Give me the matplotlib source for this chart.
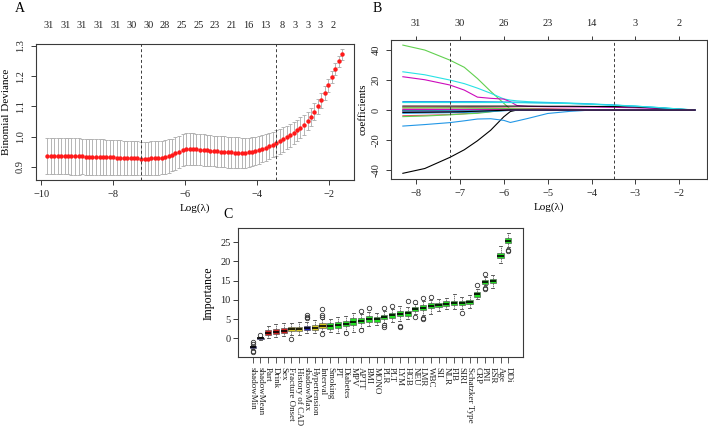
import numpy as np
import matplotlib
matplotlib.use("Agg")
import matplotlib.pyplot as plt

plt.rcParams['font.family'] = ['Liberation Serif', 'DejaVu Serif']

# ---------------- panel A: cross-validated binomial deviance ----------------
log_lambda_a = [-9.83, -9.73, -9.64, -9.54, -9.44, -9.35, -9.25, -9.16, -9.06, -8.96,
                -8.87, -8.77, -8.67, -8.58, -8.48, -8.38, -8.29, -8.19, -8.10, -8.00,
                -7.90, -7.81, -7.71, -7.61, -7.52, -7.42, -7.33, -7.23, -7.13, -7.04,
                -6.94, -6.84, -6.75, -6.65, -6.55, -6.46, -6.36, -6.27, -6.17, -6.07,
                -5.98, -5.88, -5.78, -5.69, -5.59, -5.49, -5.40, -5.30, -5.20, -5.11,
                -5.01, -4.92, -4.82, -4.72, -4.63, -4.53, -4.43, -4.34, -4.24, -4.14,
                -4.05, -3.95, -3.86, -3.76, -3.66, -3.57, -3.47, -3.37, -3.28, -3.18,
                -3.09, -2.99, -2.89, -2.80, -2.70, -2.60, -2.51, -2.41, -2.31, -2.22,
                -2.12, -2.03, -1.93, -1.83, -1.74, -1.64]
deviance = [0.937, 0.937, 0.937, 0.936, 0.936, 0.936, 0.936, 0.935, 0.935, 0.935,
            0.935, 0.934, 0.934, 0.934, 0.933, 0.933, 0.933, 0.932, 0.932, 0.932,
            0.931, 0.931, 0.930, 0.930, 0.929, 0.929, 0.929, 0.928, 0.928, 0.928,
            0.929, 0.929, 0.930, 0.931, 0.933, 0.936, 0.940, 0.945, 0.950, 0.955,
            0.958, 0.959, 0.959, 0.958, 0.957, 0.956, 0.955, 0.954, 0.953, 0.952,
            0.951, 0.950, 0.949, 0.948, 0.947, 0.947, 0.947, 0.947, 0.948, 0.950,
            0.953, 0.956, 0.960, 0.964, 0.969, 0.974, 0.979, 0.985, 0.991, 0.998,
            1.005, 1.013, 1.021, 1.030, 1.040, 1.052, 1.066, 1.082, 1.100, 1.121,
            1.145, 1.170, 1.197, 1.224, 1.249, 1.273]
deviance_sd = [0.060, 0.060, 0.060, 0.060, 0.060, 0.060, 0.060, 0.060, 0.060, 0.060,
               0.059, 0.059, 0.059, 0.059, 0.058, 0.058, 0.058, 0.058, 0.058, 0.057,
               0.057, 0.057, 0.057, 0.057, 0.057, 0.056, 0.056, 0.056, 0.056, 0.056,
               0.056, 0.056, 0.055, 0.055, 0.055, 0.055, 0.054, 0.054, 0.054, 0.053,
               0.053, 0.053, 0.052, 0.052, 0.052, 0.052, 0.052, 0.052, 0.051, 0.051,
               0.051, 0.051, 0.051, 0.051, 0.051, 0.051, 0.050, 0.050, 0.049, 0.048,
               0.047, 0.046, 0.045, 0.044, 0.043, 0.042, 0.042, 0.041, 0.040, 0.039,
               0.038, 0.037, 0.035, 0.034, 0.033, 0.031, 0.030, 0.028, 0.026, 0.025,
               0.024, 0.022, 0.021, 0.020, 0.019, 0.018]
lambda_min = -7.23
lambda_1se = -3.49
nzero_pos_a = [-9.80, -9.33, -8.87, -8.41, -7.94, -7.48, -7.02, -6.56, -6.09, -5.63,
               -5.17, -4.70, -4.24, -3.78, -3.31, -2.94, -2.58, -2.25, -1.88]
nzero_labels_a = ['31', '31', '31', '31', '31', '30', '30', '28', '25', '25',
                  '23', '21', '16', '13', '8', '3', '3', '3', '2']

# ---------------- panel B: coefficient paths ----------------
path_x = [-8.3, -7.8, -7.23, -6.9, -6.6, -6.3, -6.0, -5.85, -5.7, -5.45,
          -5.0, -4.5, -4.0, -3.5, -3.0, -2.5, -2.0, -1.64]
coef_paths = [
    [-42.2, -39.0, -31.6, -26.5, -20.5, -13.5, -4.5, -1.0, 0, 0, 0, 0, 0, 0, 0, 0, 0, 0],
    [0.7, 0.7, 0.6, 0.5, 0.4, 0.3, 0.2, 0.1, 0, 0, 0, 0, 0, 0, 0, 0, 0, 0],
    [43.3, 40.0, 33.3, 28.5, 21.0, 12.5, 4.5, 0.5, 0, 0, 0, 0, 0, 0, 0, 0, 0, 0],
    [-10.7, -9.7, -8.4, -7.2, -6.0, -5.8, -6.9, -8.3, -7.3, -5.6, -2.3, -0.9, 0, 0, 0, 0, 0, 0],
    [25.5, 23.5, 20.0, 17.6, 14.6, 11.2, 7.4, 6.6, 6.1, 5.6, 5.1, 4.7, 4.1, 3.4, 2.6, 1.7, 0.7, 0],
    [22.2, 20.2, 16.7, 13.3, 8.6, 7.8, 7.3, 5.5, 3.0, 2.4, 2.2, 2.1, 2.0, 1.8, 1.5, 1.0, 0.4, 0],
    [2.6, 2.6, 2.6, 2.6, 2.6, 2.6, 2.6, 2.6, 2.6, 2.6, 2.5, 2.5, 2.4, 2.3, 2.0, 1.4, 0.5, 0],
    [-3.8, -3.5, -3.0, -2.5, -1.8, -1.0, -0.3, 0, 0, 0, 0, 0, 0, 0, 0, 0, 0, 0],
    [-4.4, -4.0, -3.2, -2.6, -2.2, -1.2, -0.2, 0, 0, 0, 0, 0, 0, 0, 0, 0, 0, 0],
    [5.6, 5.6, 5.6, 5.6, 5.6, 5.5, 5.4, 5.3, 5.2, 5.0, 4.8, 4.4, 3.9, 3.3, 2.5, 1.6, 0.6, 0],
    [5.0, 5.0, 5.0, 5.0, 5.0, 5.0, 5.0, 5.0, 4.9, 4.8, 4.6, 4.3, 3.8, 3.2, 2.6, 1.7, 0.7, 0],
    [-1.1, -1.0, -0.9, -0.8, -0.6, -0.4, -0.2, 0, 0, 0, 0, 0, 0, 0, 0, 0, 0, 0],
    [-0.4, -0.4, -0.3, -0.3, -0.2, -0.1, 0, 0, 0, 0, 0, 0, 0, 0, 0, 0, 0, 0],
    [1.9, 1.9, 1.8, 1.7, 1.6, 1.5, 1.4, 1.3, 1.2, 1.1, 0.9, 0.6, 0.3, 0, 0, 0, 0, 0],
    [1.5, 1.5, 1.4, 1.3, 1.2, 1.1, 1.0, 0.9, 0.8, 0.7, 0.4, 0.1, 0, 0, 0, 0, 0, 0],
    [-2.2, -2.0, -1.8, -1.6, -1.3, -1.0, -0.5, -0.2, 0, 0, 0, 0, 0, 0, 0, 0, 0, 0],
    [-0.6, -0.6, -0.5, -0.5, -0.4, -0.4, -0.3, -0.3, -0.3, -0.2, -0.1, 0, 0, 0, 0, 0, 0, 0],
    [0.3, 0.3, 0.3, 0.2, 0.2, 0.1, 0, 0, 0, 0, 0, 0, 0, 0, 0, 0, 0, 0],
    [-1.6, -1.5, -1.3, -1.1, -0.8, -0.5, -0.2, 0, 0, 0, 0, 0, 0, 0, 0, 0, 0, 0],
]
nzero_pos_b = [-8, -7, -6, -5, -4, -3, -2]
nzero_labels_b = ['31', '30', '26', '23', '14', '3', '2']
r_palette = ['black', '#DF536B', '#61D04F', '#2297E6', '#28E2E5', '#CD0BBC']

# ---------------- panel C: Boruta importance ----------------
features = ['shadowMin', 'shadowMean', 'Part', 'Drink', 'Sex', 'Fracture Onset',
            'History of CAD', 'shadowMax', 'Hypertension', 'Interval', 'Smoking', 'PT',
            'Diabetes', 'MPV', 'APTT', 'BMI', 'MONO', 'PLR', 'PLT', 'LYM', 'HGB', 'NEU',
            'LMR', 'WBC', 'SII', 'NLR', 'FIB', 'SIRI', 'Schatzker Type', 'CRP', 'PNI',
            'ESR', 'Age', 'DDi']
decision = ['shadow', 'shadow', 'rejected', 'rejected', 'rejected', 'tentative',
            'tentative', 'shadow', 'tentative', 'tentative'] + ['confirmed'] * 24
imp_q1 = [-2.55, -0.12, 0.85, 1.15, 1.35, 1.85, 1.85, 2.05, 2.25, 2.55, 2.45, 2.75,
          3.15, 3.45, 3.85, 4.35, 4.35, 4.95, 5.35, 5.75, 5.85, 7.05, 7.35, 7.75, 8.05,
          8.35, 8.55, 8.55, 8.85, 10.75, 14.05, 14.25, 20.85, 24.75]
imp_med = [-2.3, 0.0, 1.5, 1.7, 1.9, 2.4, 2.4, 2.6, 2.8, 3.1, 3.2, 3.4, 3.8, 4.3, 4.6,
           5.0, 5.0, 5.5, 6.0, 6.4, 6.5, 7.6, 7.9, 8.4, 8.6, 9.0, 9.2, 9.2, 9.5, 11.4,
           14.6, 14.8, 21.5, 25.4]
imp_q3 = [-2.05, 0.12, 2.15, 2.35, 2.55, 3.05, 2.95, 3.25, 3.45, 3.85, 3.95, 4.15,
          4.45, 5.15, 5.25, 5.75, 5.65, 6.15, 6.65, 7.15, 7.15, 8.15, 8.55, 9.05, 9.25,
          9.65, 9.75, 9.75, 10.05, 12.05, 15.15, 15.35, 22.15, 26.05]
imp_lo = [-2.9, -0.4, 0.0, 0.3, 0.5, 0.9, 0.9, 1.3, 1.4, 1.8, 1.6, 1.5, 2.0, 1.7, 2.8,
          3.3, 3.4, 4.0, 4.2, 4.5, 4.9, 6.2, 6.1, 6.4, 7.0, 7.5, 7.5, 7.6, 7.8, 10.2,
          13.9, 13.2, 19.6, 23.8]
imp_hi = [-1.8, 0.4, 3.3, 3.6, 3.9, 4.1, 4.2, 4.3, 4.7, 5.0, 5.0, 5.6, 5.8, 6.6, 6.4,
          6.9, 6.6, 7.1, 7.6, 8.3, 8.2, 8.9, 9.6, 10.0, 10.2, 10.6, 11.5, 10.7, 11.3, 12.8,
          15.9, 16.4, 24.1, 27.4]
imp_out = {0: [-1.0, -1.4, -3.2, -3.6], 1: [0.8], 5: [-0.1], 7: [5.2, 5.6, 6.1],
           9: [1.1, 5.5, 6.0, 7.5], 12: [1.3], 14: [2.1, 7.1], 15: [8.0],
           17: [3.0, 3.4, 7.8], 18: [8.5], 19: [3.0, 3.3], 20: [9.6], 21: [5.5, 9.5],
           22: [5.1, 5.4, 10.4], 23: [10.8], 27: [6.6], 29: [13.9],
           30: [12.7, 13.1, 16.6], 33: [22.6, 22.9]}
decision_colors = {'shadow': '#1E1EB4', 'rejected': '#D01E1E',
                   'tentative': '#D8CC22', 'confirmed': '#22E022'}

W, H = 708, 426
edge = '#3a3a3a'


def px_axes(left, top, right, bottom):
    return fig.add_axes([left / W, 1 - bottom / H, (right - left) / W, (bottom - top) / H])


def style_box(ax):
    for s in ax.spines.values():
        s.set_color(edge)
        s.set_linewidth(0.8)
    ax.tick_params(colors=edge, labelcolor='#222222', width=0.7, length=3.5)


fig = plt.figure(figsize=(W / 100, H / 100), dpi=100)

# ---- A ----
axA = px_axes(35.5, 43.5, 354, 180)
axA.errorbar(log_lambda_a, deviance, yerr=deviance_sd, fmt='none', ecolor='#aaaaaa',
             elinewidth=0.6, capsize=1.6, capthick=0.6)
axA.plot(log_lambda_a, deviance, 'o', color='#ff1a1a', ms=3.2, mec='none')
axA.axvline(lambda_min, color=edge, ls=(0, (3, 2.5)), lw=0.7)
axA.axvline(lambda_1se, color=edge, ls=(0, (3, 2.5)), lw=0.7)
axA.set_xlim(-10.16, -1.31)
axA.set_ylim(0.857, 1.308)
axA.set_xticks([-10, -8, -6, -4, -2])
axA.set_yticks([0.9, 1.0, 1.1, 1.2, 1.3])
axA.set_yticklabels(['0.9', '1.0', '1.1', '1.2', '1.3'], rotation=90, va='center')
style_box(axA)
axA.tick_params(labelsize=7.5, pad=4)
axA.set_xlabel('Log(λ)', fontsize=8, labelpad=3)
axA.set_ylabel('Binomial Deviance', fontsize=8, labelpad=4)
topA = axA.twiny()
topA.set_xlim(axA.get_xlim())
topA.set_xticks(nzero_pos_a)
topA.set_xticklabels(nzero_labels_a)
topA.tick_params(length=0, labelsize=7.5, pad=10, labelcolor='#222222')
for s in topA.spines.values():
    s.set_visible(False)

# ---- B ----
axB = px_axes(391, 40, 707, 179)
for i, vals in enumerate(coef_paths):
    axB.plot(path_x, vals, color=r_palette[i % len(r_palette)], lw=0.8)
axB.axvline(lambda_min, color=edge, ls=(0, (3, 2.5)), lw=0.7)
axB.axvline(lambda_1se, color=edge, ls=(0, (3, 2.5)), lw=0.7)
axB.set_xlim(-8.57, -1.37)
axB.set_ylim(-46.0, 46.7)
axB.set_xticks([-8, -7, -6, -5, -4, -3, -2])
axB.set_yticks([-40, -20, 0, 20, 40])
axB.set_yticklabels(['-40', '-20', '0', '20', '40'], rotation=90, va='center')
style_box(axB)
axB.tick_params(labelsize=7.5, pad=4)
axB.set_xlabel('Log(λ)', fontsize=8, labelpad=3)
axB.set_ylabel('coefficients', fontsize=8, labelpad=3)
topB = axB.twiny()
topB.set_xlim(axB.get_xlim())
topB.set_xticks(nzero_pos_b)
topB.set_xticklabels(nzero_labels_b)
topB.tick_params(length=3, width=0.7, colors=edge, labelcolor='#222222',
                 labelsize=7.5, pad=6)
for s in topB.spines.values():
    s.set_visible(False)

# ---- C ----
axC = px_axes(238.3, 228.3, 522.7, 357.3)
stats = []
for i, name in enumerate(features):
    stats.append({'med': imp_med[i], 'q1': imp_q1[i], 'q3': imp_q3[i],
                  'whislo': imp_lo[i], 'whishi': imp_hi[i],
                  'fliers': imp_out.get(i, []), 'label': name})
positions = np.arange(1, len(features) + 1)
bp = axC.bxp(stats, positions=positions, widths=0.8, patch_artist=True,
             capwidths=0.4,
             boxprops=dict(edgecolor='#444444', linewidth=0.4),
             medianprops=dict(color='black', linewidth=1.2),
             whiskerprops=dict(color='#444444', linewidth=0.5, ls=(0, (2, 1))),
             capprops=dict(color='#444444', linewidth=0.6),
             flierprops=dict(marker='o', mfc='none', mec='#333333', ms=3.2, mew=0.6))
for patch, dec in zip(bp['boxes'], decision):
    patch.set_facecolor(decision_colors[dec])
axC.set_xlim(-0.86, 35.86)
axC.set_ylim(-4.94, 28.6)
axC.set_yticks([0, 5, 10, 15, 20, 25])
axC.set_xticks(positions)
axC.set_xticklabels(features, rotation=270, fontsize=6.5)
style_box(axC)
axC.tick_params(axis='x', length=4.3, width=0.6, pad=3)
axC.tick_params(axis='y', labelsize=7.5, pad=2)
axC.set_ylabel('Importance', fontsize=8.5, labelpad=4)

fig.text(20 / W, 1 - 8 / H, 'A', fontsize=10, ha='center', va='center')
fig.text(377 / W, 1 - 8 / H, 'B', fontsize=10, ha='center', va='center')
fig.text(228 / W, 1 - 215 / H, 'C', fontsize=10, ha='center', va='center')

fig.savefig('out.png', dpi=100)
